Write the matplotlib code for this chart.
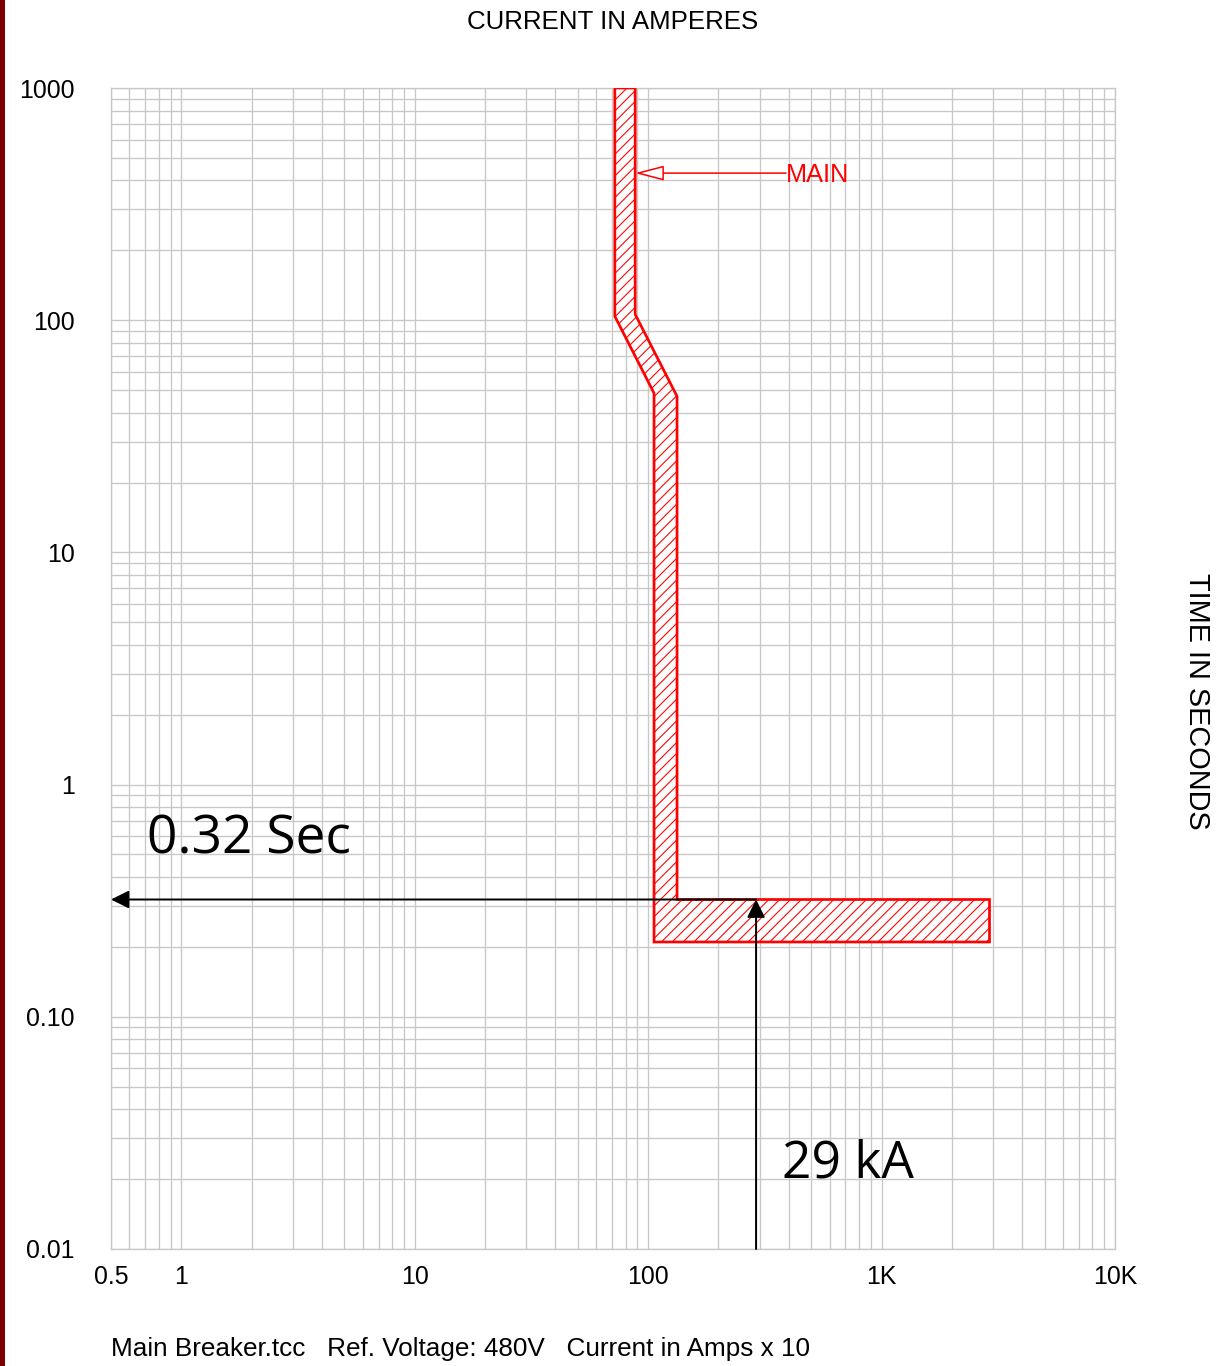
import matplotlib
matplotlib.use("Agg")
import matplotlib.pyplot as plt
from matplotlib.patches import Polygon, Rectangle
from matplotlib.ticker import FixedLocator, FixedFormatter, LogLocator, NullFormatter

DPI = 130
W, H = 1230, 1366

plt.rcParams['font.family'] = ['Liberation Sans', 'DejaVu Sans']
plt.rcParams['hatch.linewidth'] = 0.6
plt.rcParams['hatch.color'] = 'red'

# Axis ticks (current in amps x 10, time in seconds)
x_ticks = [0.5, 1, 10, 100, 1000, 10000]
x_labels = ["0.5", "1", "10", "100", "1K", "10K"]
y_ticks = [0.01, 0.1, 1, 10, 100, 1000]
y_labels = ["0.01", "0.10", "1", "10", "100", "1000"]

# Main breaker trip band outline (amps x 10, seconds)
main_amps = [72, 72, 106, 106, 2900, 2900, 133, 133, 88, 88]
main_secs = [1000, 104, 48.5, 0.21, 0.21, 0.32, 0.32, 47, 106, 1000]

# Device label anchor on the band
label_amps = 88
label_secs = 430

# Fault current and clearing time
fault_amps = 290
clear_secs = 0.32

GRID = '#c8c8c8'

fig = plt.figure(figsize=(W / DPI, H / DPI), dpi=DPI)
fig.patch.set_facecolor('white')
ax = fig.add_axes([111 / W, 1 - 1249 / H, (1115 - 111) / W, (1249 - 88) / H])
ax.set_xscale('log')
ax.set_yscale('log')
ax.set_xlim(x_ticks[0], x_ticks[-1])
ax.set_ylim(y_ticks[0], y_ticks[-1])

ax.xaxis.set_major_locator(FixedLocator(x_ticks))
ax.xaxis.set_major_formatter(FixedFormatter(x_labels))
ax.yaxis.set_major_locator(FixedLocator(y_ticks))
ax.yaxis.set_major_formatter(FixedFormatter(y_labels))
ax.xaxis.set_minor_locator(LogLocator(base=10, subs=range(2, 10), numticks=50))
ax.yaxis.set_minor_locator(LogLocator(base=10, subs=range(2, 10), numticks=50))
ax.xaxis.set_minor_formatter(NullFormatter())
ax.yaxis.set_minor_formatter(NullFormatter())

ax.grid(True, which='both', color=GRID, lw=0.75)
ax.set_axisbelow(True)
for sp in ax.spines.values():
    sp.set_color(GRID)
    sp.set_linewidth(0.75)

ax.tick_params(which='both', length=0)
ax.tick_params(axis='x', pad=9, labelsize=13.8)
ax.tick_params(axis='y', pad=20, labelsize=13.8)

# Trip band
band = Polygon(list(zip(main_amps, main_secs)), closed=True,
               facecolor='white', edgecolor='red', lw=1.5, hatch='////', zorder=3)
ax.add_patch(band)

# Device label with open arrowhead
ax.annotate('', xy=(label_amps, label_secs), xytext=(390, label_secs), zorder=4,
            arrowprops=dict(arrowstyle='-|>,head_length=13.8,head_width=3.6',
                            mutation_scale=1, fc='white', ec='red', lw=0.85,
                            shrinkA=0, shrinkB=0))
ax.annotate('MAIN', xy=(390, label_secs), xytext=(0, -1), textcoords='offset points',
            ha='left', va='center', color='red', fontsize=14, zorder=4)

# Fault current / clearing time arrows
ax.annotate('', xy=(fault_amps, clear_secs), xytext=(fault_amps, y_ticks[0]),
            annotation_clip=False, zorder=5,
            arrowprops=dict(arrowstyle='-|>', mutation_scale=21, color='black',
                            lw=1.1, shrinkA=0, shrinkB=0))
ax.annotate('', xy=(x_ticks[0], clear_secs), xytext=(fault_amps, clear_secs),
            annotation_clip=False, zorder=5,
            arrowprops=dict(arrowstyle='-|>', mutation_scale=21, color='black',
                            lw=1.1, shrinkA=0, shrinkB=0))

ax.text(0.71, 0.507, f'{clear_secs:.2f} Sec', family='Open Sans', fontsize=29.5,
        ha='left', va='baseline', zorder=6)
ax.text(375, 0.0204, '29 kA', family='Open Sans', fontsize=28.5,
        ha='left', va='baseline', zorder=6)

# Titles and footer
fig.text(613 / W, 1 - 22 / H, 'CURRENT IN AMPERES', ha='center', va='center', fontsize=14.3)
fig.text(1197 / W, 1 - 701 / H, 'TIME IN SECONDS', ha='center', va='center',
         rotation=-90, fontsize=16)
fig.text(111 / W, 1 - 1349 / H,
         'Main Breaker.tcc   Ref. Voltage: 480V   Current in Amps x 10',
         ha='left', va='center', fontsize=14.5)

# Left border stripe
fig.add_artist(Rectangle((0, 0), 5 / W, 1, transform=fig.transFigure,
                         facecolor='#7a0000', edgecolor='none'))

fig.savefig('out.png', dpi=DPI)
